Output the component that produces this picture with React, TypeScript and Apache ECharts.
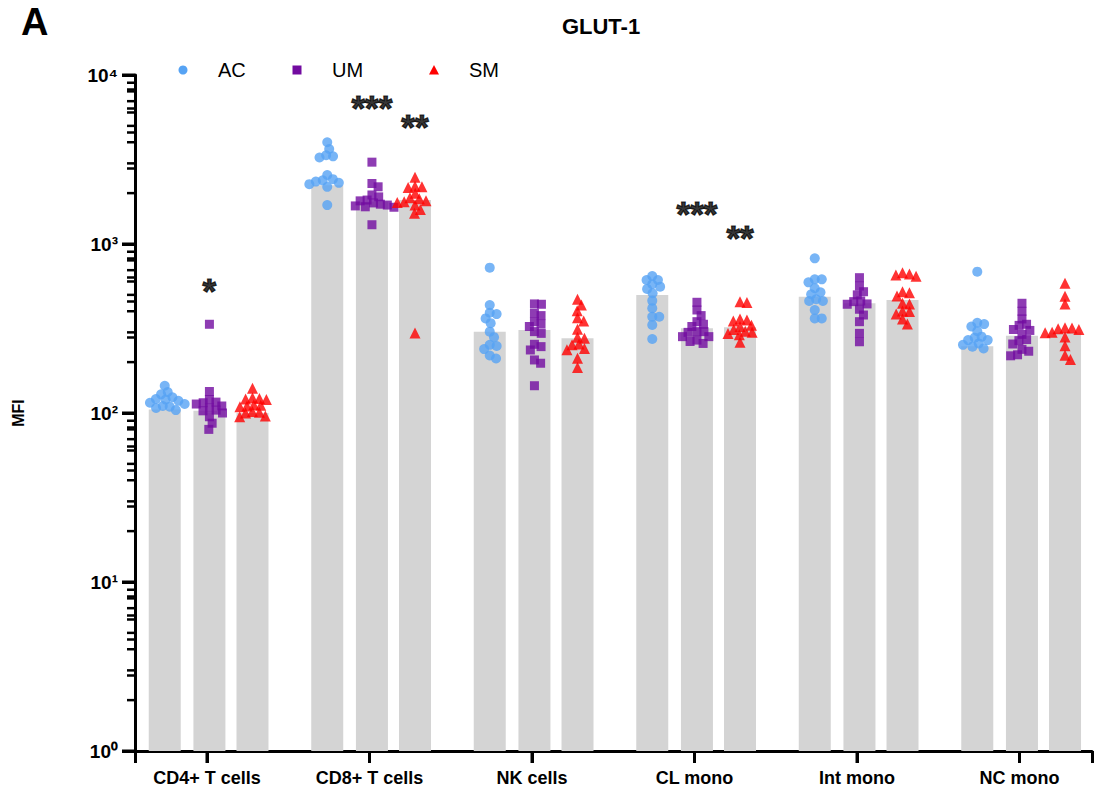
import React, { useEffect, useRef } from 'react';
import * as echarts from 'echarts';

// ---------------- data ----------------
const categories = ['CD4+ T cells', 'CD8+ T cells', 'NK cells', 'CL mono', 'Int mono', 'NC mono'];
const groupNames = ['AC', 'UM', 'SM'];

// bar heights (per category)
const barAC = [105, 2230, 303, 499, 488, 248];
const barUM = [103, 1780, 310, 317, 446, 286];
const barSM = [100, 1820, 277, 322, 466, 299];

// individual points (per category)
const acPoints = [
  [145, 133, 129, 124, 121, 120, 118, 115, 113, 110, 109, 107, 104],
  [4000, 3650, 3350, 3300, 3250, 2560, 2420, 2380, 2340, 2300, 2260, 2180, 1700],
  [724, 435, 392, 385, 363, 340, 303, 281, 253, 249, 239, 219, 210],
  [647, 612, 612, 578, 559, 542, 511, 462, 417, 371, 371, 332, 274],
  [823, 618, 618, 593, 547, 518, 504, 471, 460, 460, 407, 363, 363],
  [686, 342, 336, 325, 305, 283, 279, 270, 270, 258, 253, 247, 241],
];
const umPoints = [
  [335, 134, 120, 116, 115, 113, 110, 107, 104, 103, 100, 95, 87, 80],
  [3050, 2280, 2180, 1950, 1900, 1820, 1800, 1750, 1720, 1700, 1680, 1660, 1650, 1300],
  [442, 440, 389, 377, 347, 336, 325, 303, 296, 255, 247, 236, 206, 197, 145],
  [452, 407, 377, 347, 335, 325, 303, 303, 300, 283, 283, 270, 265, 258],
  [632, 564, 522, 500, 460, 456, 442, 440, 411, 380, 347, 296, 264],
  [446, 400, 360, 335, 330, 312, 308, 292, 272, 268, 256, 238, 232, 221, 218],
];
const smPoints = [
  [140, 123, 122, 121, 120, 112, 111, 110, 109, 102, 101, 100, 96, 95],
  [2480, 2200, 2180, 2160, 2000, 1880, 1850, 1800, 1780, 1760, 1700, 1600, 1520, 297],
  [471, 435, 403, 366, 350, 313, 281, 277, 256, 253, 241, 237, 211, 186],
  [455, 450, 360, 355, 350, 330, 325, 312, 305, 300, 295, 290, 262],
  [675, 665, 655, 645, 522, 515, 492, 446, 442, 401, 399, 385, 360, 336],
  [585, 490, 442, 320, 318, 315, 312, 300, 298, 282, 250, 220, 207],
];

// significance marks: category, group (0 AC, 1 UM, 2 SM), text, value
const starCategory = [0, 1, 1, 3, 3];
const starGroup = [1, 1, 2, 1, 2];
const starText = ['*', '***', '**', '***', '**'];
const starValue = [534, 6380, 4990, 1505, 1086];

const yMajorTicks = [1, 10, 100, 1000, 10000];
const yMinorTicks = [
  2, 3, 4, 5, 6, 7, 8, 9,
  20, 30, 40, 50, 60, 70, 80, 90,
  200, 300, 400, 500, 600, 700, 800, 900,
  2000, 3000, 4000, 5000, 6000, 7000, 8000, 9000,
];
const xTickPositions = [0, 1, 2, 3, 4, 5];
const SUPERSCRIPTS = ['\u2070', '\u00B9', '\u00B2', '\u00B3', '\u2074'];

// ---------------- layout / style ----------------
const W = 1094;
const H = 797;
const GRID = { left: 135, right: 2, top: 75, bottom: 46 };
const X_MIN = -0.443;
const X_MAX = 5.446;
const SUB_OFFSET = [-0.26, 0.015, 0.28];
const COLORS = ['#56A3F4', '#720BA0', '#FF0000'];
const SYMBOLS = ['circle', 'rect', 'triangle'];
const SYMBOL_SIZE = [10, 9, 11];
const LEGEND_ICON_X = [183, 297, 434];
const LEGEND_Y = 70;
const FONT = '"Liberation Sans", Arial, Helvetica, sans-serif';

const PX_PER_X = (W - GRID.left - GRID.right) / (X_MAX - X_MIN);
const PX_PER_DECADE = (H - GRID.top - GRID.bottom) / 4;

// deterministic beeswarm: returns horizontal pixel offsets
function swarm(values: number[], d: number): number[] {
  const order = values.map((_, i) => i).sort((a, b) => values[b] - values[a]);
  const placed: { x: number; y: number }[] = [];
  const xs = new Array(values.length).fill(0);
  for (const i of order) {
    const y = Math.log10(values[i]) * PX_PER_DECADE;
    const cands = [0];
    for (const p of placed) {
      const dy = Math.abs(p.y - y);
      if (dy < d) {
        const dx = Math.sqrt(d * d - dy * dy);
        cands.push(p.x + dx, p.x - dx);
      }
    }
    cands.sort((a, b) => Math.abs(a) - Math.abs(b));
    for (const c of cands) {
      if (placed.every((p) => (p.x - c) ** 2 + (p.y - y) ** 2 >= d * d - 0.01)) {
        xs[i] = c;
        placed.push({ x: c, y });
        break;
      }
    }
  }
  return xs;
}

function buildPoints(sets: number[][], g: number, d: number) {
  const out: number[][] = [];
  sets.forEach((vals, c) => {
    const offs = swarm(vals, d);
    vals.forEach((v, k) => {
      out.push([c + SUB_OFFSET[g] + offs[k] / PX_PER_X, v]);
    });
  });
  return out;
}

function legendGraphics() {
  const els: any[] = [];
  const x = LEGEND_ICON_X;
  const y = LEGEND_Y;
  els.push({ id: 'lg0', type: 'circle', shape: { cx: x[0], cy: y, r: 4.5 }, style: { fill: COLORS[0] } });
  els.push({ id: 'lg1', type: 'rect', shape: { x: x[1] - 4.5, y: y - 4.5, width: 9, height: 9 }, style: { fill: COLORS[1] } });
  els.push({
    id: 'lg2',
    type: 'polygon',
    shape: { points: [[x[2], y - 5], [x[2] + 5, y + 4.5], [x[2] - 5, y + 4.5]] },
    style: { fill: COLORS[2] },
  });
  groupNames.forEach((n, i) => {
    els.push({
      id: 'lt' + i,
      type: 'text',
      x: x[i] + 35,
      y,
      style: { text: n, font: `20px ${FONT}`, fill: '#000', align: 'left', verticalAlign: 'middle' },
    });
  });
  return els;
}

const staticGraphics = [
  { id: 'panel', type: 'text', x: 21, y: 3, style: { text: 'A', font: `bold 38px ${FONT}`, fill: '#000' } },
  {
    id: 'title',
    type: 'text',
    x: 601,
    y: 26,
    style: { text: 'GLUT-1', align: 'center', verticalAlign: 'middle', font: `bold 22px ${FONT}`, fill: '#000' },
  },
  {
    id: 'yname',
    type: 'text',
    x: 18,
    y: 413,
    rotation: Math.PI / 2,
    style: { text: 'MFI', align: 'center', verticalAlign: 'middle', font: `bold 16px ${FONT}`, fill: '#000' },
  },
  ...legendGraphics(),
];

function buildOption() {
  const barData: number[][] = [];
  [barAC, barUM, barSM].forEach((arr, g) => {
    arr.forEach((v, c) => barData.push([c + SUB_OFFSET[g], v]));
  });

  const pointSets = [acPoints, umPoints, smPoints];
  const scatterSeries = pointSets.map((sets, g) => ({
    type: 'scatter',
    name: groupNames[g],
    symbol: SYMBOLS[g],
    symbolSize: SYMBOL_SIZE[g],
    itemStyle: { color: COLORS[g] },
    data: buildPoints(sets, g, 7),
  }));

  const starData = starText.map((t, i) => ({
    name: t,
    value: [starCategory[i] + SUB_OFFSET[starGroup[i]], starValue[i]],
  }));

  return {
    animation: false,
    backgroundColor: '#ffffff',
    graphic: { elements: staticGraphics },
    grid: { left: GRID.left, right: GRID.right, top: GRID.top, bottom: GRID.bottom },
    xAxis: {
      type: 'value',
      min: X_MIN,
      max: X_MAX,
      axisLine: { show: true, onZero: false, lineStyle: { color: '#000', width: 3 } },
      axisTick: { show: true, length: 12, lineStyle: { color: '#000', width: 3 } },
      axisLabel: {
        customValues: xTickPositions,
        formatter: (v: number) => categories[Math.round(v)],
        margin: 18,
        fontSize: 18,
        fontWeight: 'bold',
        color: '#000',
      },
      splitLine: { show: false },
    },
    yAxis: {
      type: 'log',
      logBase: 10,
      min: 1,
      max: 10000,
      axisLine: { show: true, onZero: false, lineStyle: { color: '#000', width: 3 } },
      axisTick: { show: true, length: 13, lineStyle: { color: '#000', width: 3 } },
      minorTick: { show: true, length: 8, lineStyle: { color: '#000', width: 2.5 } },
      axisLabel: {
        margin: 17,
        fontSize: 19,
        fontWeight: 'bold',
        color: '#000',
        formatter: (v: number) => {
          const e = Math.round(Math.log10(v));
          return '10' + (SUPERSCRIPTS[e] || String(e));
        },
      },
      splitLine: { show: false },
    },
    series: [
      {
        type: 'bar',
        barWidth: 32,
        itemStyle: { color: '#D4D4D4' },
        data: barData,
      },
      ...scatterSeries,
      {
        type: 'scatter',
        symbolSize: 1,
        itemStyle: { color: 'rgba(0,0,0,0)' },
        label: {
          show: true,
          position: 'inside',
          formatter: '{b}',
          fontSize: 35,
          fontWeight: 'bold',
          color: '#000000',
          textBorderColor: '#000000',
          textBorderWidth: 1.2,
        },
        data: starData,
      },
    ],
  };
}

// extra tick marks (thin rects) placed through the chart's own scales
function buildTicks(chart: echarts.ECharts) {
  const els: any[] = [];
  const add = (x: number, y: number, horizontal: boolean, len: number, w: number) => {
    const p = chart.convertToPixel({ gridIndex: 0 }, [x, y]) as number[];
    if (!p || !isFinite(p[0]) || !isFinite(p[1])) return;
    const shape = horizontal
      ? { x: p[0] - len, y: p[1] - w / 2, width: len, height: w }
      : { x: p[0] - w / 2, y: p[1], width: w, height: len };
    els.push({ id: 'tk' + els.length, type: 'rect', shape, style: { fill: '#000' } });
  };
  yMajorTicks.forEach((v) => add(X_MIN, v, true, 13, 3));
  yMinorTicks.forEach((v) => add(X_MIN, v, true, 8, 2.5));
  xTickPositions.forEach((c) => add(c, 1, false, 12, 3));
  return els;
}

export default function App() {
  const ref = useRef<HTMLDivElement>(null);
  useEffect(() => {
    const chart = echarts.init(ref.current as HTMLDivElement, undefined, { renderer: 'svg' });
    chart.setOption(buildOption() as any);
    try {
      chart.setOption({ graphic: { elements: [...staticGraphics, ...buildTicks(chart)] } } as any);
    } catch (e) {
      // keep the chart as is
    }
    return () => chart.dispose();
  }, []);
  return (
    <div
      ref={ref}
      style={{ position: 'absolute', left: 0, top: 0, width: W, height: H, background: '#fff' }}
    />
  );
}
